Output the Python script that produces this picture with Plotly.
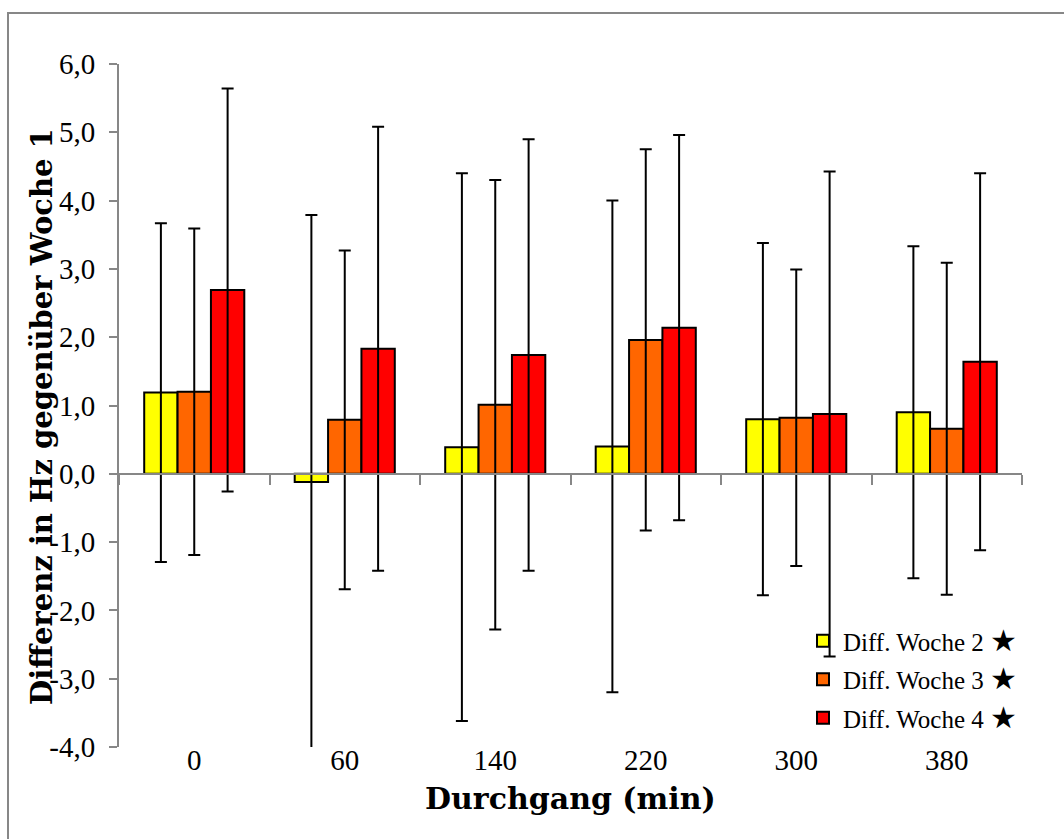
import plotly.graph_objects as go

categories = ["0", "60", "140", "220", "300", "380"]
series_names = ["Diff. Woche 2", "Diff. Woche 3", "Diff. Woche 4"]
woche2 = [1.19, -0.12, 0.39, 0.40, 0.80, 0.90]
woche3 = [1.20, 0.79, 1.01, 1.96, 0.82, 0.66]
woche4 = [2.69, 1.83, 1.74, 2.14, 0.875, 1.64]
err2 = [2.48, 3.91, 4.01, 3.60, 2.58, 2.43]
err3 = [2.39, 2.48, 3.29, 2.79, 2.17, 2.43]
err4 = [2.95, 3.25, 3.16, 2.82, 3.55, 2.76]
colors = ["#FFFF00", "#FF6600", "#FF0000"]
y_ticks = [-4, -3, -2, -1, 0, 1, 2, 3, 4, 5, 6]
y_ticktext = ["-4,0", "-3,0", "-2,0", "-1,0", "0,0", "1,0", "2,0", "3,0", "4,0", "5,0", "6,0"]
y_title = "Differenz in Hz gegenüber Woche 1"
x_title = "Durchgang (min)"

W, H = 1064, 839
ml, mr, mt, mb = 119, 42, 64, 92
pw, ph = W - ml - mr, H - mt - mb

SERIF = "DejaVu Serif, Liberation Serif, serif"
TSERIF = "Liberation Serif, DejaVu Serif, serif"
GRAY = "#878787"
STAR = " <span style='font-size:30px;font-family:DejaVu Sans'>★</span>"

fig = go.Figure()
for i, (vals, errs) in enumerate(zip([woche2, woche3, woche4], [err2, err3, err4])):
    fig.add_trace(go.Bar(
        x=categories, y=vals, name=series_names[i] + STAR,
        marker=dict(color=colors[i], line=dict(color="black", width=2)),
        error_y=dict(type="data", array=errs, visible=True, color="black",
                     thickness=2, width=6),
        legendgroup=f"g{i}",
    ))

# invisible helper trace to show the category axis line crossing at zero
fig.add_trace(go.Scatter(x=categories, y=[0] * len(categories), xaxis="x2",
                         mode="markers", marker=dict(opacity=0),
                         showlegend=False, hoverinfo="skip"))

yr = (-4, 6)
fig.update_layout(
    width=W, height=H,
    margin=dict(l=ml, r=mr, t=mt, b=mb),
    paper_bgcolor="white", plot_bgcolor="white",
    barmode="group", bargap=0.335, bargroupgap=0,
    font=dict(family=SERIF, color="black"),
    xaxis=dict(type="category", categoryarray=categories, range=[-0.5, 5.5],
               anchor="free", position=7 / ph,
               showline=False, ticks="", showgrid=False, zeroline=False,
               tickfont=dict(size=29, family=TSERIF), ticklabelstandoff=0),
    xaxis2=dict(type="category", categoryarray=categories, range=[-0.5, 5.5],
                overlaying="x", anchor="free",
                position=(0 - yr[0]) / (yr[1] - yr[0]),
                showline=True, linecolor=GRAY, linewidth=2,
                ticks="outside", tickson="boundaries", ticklen=10,
                tickcolor=GRAY, tickwidth=2,
                showticklabels=False, showgrid=False, zeroline=False),
    yaxis=dict(range=list(yr), tickvals=y_ticks, ticktext=y_ticktext,
               showline=True, linecolor=GRAY, linewidth=2,
               ticks="outside", ticklen=8, tickcolor=GRAY, tickwidth=2,
               showgrid=False, zeroline=False,
               tickfont=dict(size=29, family=TSERIF), ticklabelstandoff=8),
    legend=dict(x=(803 - ml) / pw, y=(747 - 618) / ph, xanchor="left", yanchor="top",
                font=dict(size=25, family=TSERIF), bgcolor="rgba(0,0,0,0)",
                tracegroupgap=3, itemwidth=30),
    annotations=[
        dict(text=f"<b>{y_title}</b>", textangle=-90, xref="paper", yref="paper",
             x=(42 - ml) / pw, y=(747 - 417) / ph, xanchor="center", yanchor="middle",
             showarrow=False, font=dict(size=29, family=SERIF)),
        dict(text=f"<b>{x_title}</b>", xref="paper", yref="paper",
             x=0.5, y=(747 - 798) / ph, xanchor="center", yanchor="middle",
             showarrow=False, font=dict(size=30, family=SERIF)),
    ],
    shapes=[
        dict(type="rect", xref="paper", yref="paper",
             x0=(8 - ml) / pw, x1=(1080 - ml) / pw,
             y0=(747 - 860) / ph, y1=(747 - 13) / ph,
             line=dict(color=GRAY, width=2), fillcolor="rgba(0,0,0,0)", layer="below"),
    ],
)

fig.write_html("out.html")
